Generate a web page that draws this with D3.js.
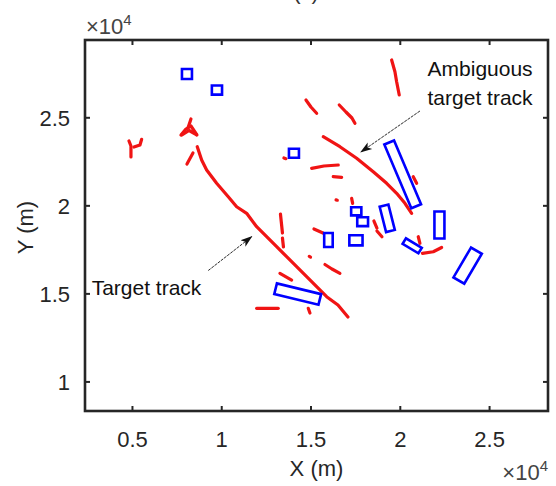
<!DOCTYPE html>
<html>
<head>
<meta charset="utf-8">
<script src="https://cdn.jsdelivr.net/npm/d3@7"></script>
<style>
  body { margin: 0; background: #fff; }
  svg { display: block; }
  text { font-family: "Liberation Sans", Arial, Helvetica, sans-serif; }
</style>
</head>
<body>
<svg id="chart" width="556" height="486"></svg>
<script>
// ---- axis ticks (metres) ----
const xTicks = [5000, 10000, 15000, 20000, 25000];
const xTickLabels = ["0.5", "1", "1.5", "2", "2.5"];
const yTicks = [10000, 15000, 20000, 25000];
const yTickLabels = ["1", "1.5", "2", "2.5"];

// ---- red track fragments, each a polyline of [x, y] in metres ----
const targetTrack = [
  [8657, 23330], [8903, 22575], [9183, 22007], [9743, 21251], [10393, 20490],
  [10863, 19922], [11423, 19547], [11983, 18786], [12543, 18218], [13103, 17650],
  [13663, 17082], [14223, 16514], [14783, 15946], [15343, 15378], [15903, 14810],
  [16536, 14339], [17096, 13657]
];
const ambiguousTrack = [
  [15713, 23898], [16648, 23330], [17583, 22671], [18513, 21910],
  [19263, 21251], [19823, 20683], [20288, 20115], [20663, 19547]
];
const clutterTracks = [
  [[4832, 23654], [4944, 23370], [4944, 23029], [4944, 22745]],
  [[5543, 23750], [5448, 23427], [5112, 23313]],
  [[7744, 23995], [8024, 24335], [8304, 24506], [8640, 23995]],
  [[7800, 24000], [8200, 24250], [8600, 24020]],
  [[8136, 24392], [8304, 24903]],
  [[8416, 22972], [8080, 22347]],
  [[19543, 28255], [19728, 27590], [19823, 27022], [19969, 26267]],
  [[14744, 25983], [15024, 25585], [15343, 25227]],
  [[16609, 25699], [16984, 25301], [17320, 24960], [17488, 24659]],
  [[15063, 22103], [15752, 22234], [16553, 22291]],
  [[16273, 21626], [16743, 21592]],
  [[13510, 22690], [13620, 22650]],
  [[20753, 21626], [20943, 21251]],
  [[17303, 20399], [17359, 20115]],
  [[16430, 20310], [16500, 20290]],
  [[13316, 19507], [13428, 18428]],
  [[13428, 18144], [13484, 17633]],
  [[15192, 18655], [15696, 18428]],
  [[18552, 19110], [18720, 18712]],
  [[18720, 18541], [19000, 18218]],
  [[21033, 18218], [21128, 17843]],
  [[21268, 17275], [21873, 17366], [22343, 17605]],
  [[14930, 17100], [15000, 17060]],
  [[15808, 16639], [16200, 16383], [16648, 16139]],
  [[11983, 14151], [13193, 14151]],
  [[14873, 14151], [14968, 13884]],
  [[13288, 16139], [13943, 15759]]
];

// ---- obstacles: centre x, centre y, length, width (metres), heading (deg) ----
const obstacleCx     = [8080, 9760, 14072, 16004, 17561, 17919, 17544, 20162, 19297, 22220, 20694, 23799, 14282];
const obstacleCy     = [27460, 26550, 22955, 18030, 19661, 19070, 18014, 21757, 19263, 18883, 17701, 16577, 14963];
const obstacleLength = [560, 570, 560, 476, 571, 605, 739, 3920, 1484, 1540, 1036, 1960, 2548];
const obstacleWidth  = [570, 520, 510, 795, 466, 500, 579, 590, 504, 560, 364, 700, 616];
const obstacleAngle  = [0, 0, 0, 0, 0, 0, 0, -67.3, -76, 90, -31.3, 59.9, -13.8];

// ---- layout ----
const plot = { left: 85, right: 548, top: 40, bottom: 411 };
const ink = "#262626";

const svg = d3.select("#chart");

const x = d3.scaleLinear().domain([2370, 28300]).range([plot.left, plot.right]);
const y = d3.scaleLinear().domain([8320, 29390]).range([plot.bottom, plot.top]);

const defs = svg.append("defs");
defs.append("clipPath").attr("id", "plotClip")
  .append("rect")
  .attr("x", plot.left).attr("y", plot.top)
  .attr("width", plot.right - plot.left).attr("height", plot.bottom - plot.top);

const marks = svg.append("g").attr("clip-path", "url(#plotClip)");

const line = d3.line().x(d => x(d[0])).y(d => y(d[1]));

// red tracks
const red = "#f01414";
marks.selectAll("path.track")
  .data([targetTrack, ambiguousTrack, ...clutterTracks])
  .join("path")
  .attr("class", "track")
  .attr("d", line)
  .attr("fill", "none")
  .attr("stroke", red)
  .attr("stroke-width", 3.2)
  .attr("stroke-linecap", "round")
  .attr("stroke-linejoin", "round");

// blue obstacle outlines
const obstacles = obstacleCx.map((cx, i) => {
  const a = obstacleAngle[i] * Math.PI / 180;
  const hl = obstacleLength[i] / 2, hw = obstacleWidth[i] / 2;
  const ux = Math.cos(a), uy = Math.sin(a);
  const vx = -Math.sin(a), vy = Math.cos(a);
  const cy = obstacleCy[i];
  return [
    [cx + ux * hl + vx * hw, cy + uy * hl + vy * hw],
    [cx - ux * hl + vx * hw, cy - uy * hl + vy * hw],
    [cx - ux * hl - vx * hw, cy - uy * hl - vy * hw],
    [cx + ux * hl - vx * hw, cy + uy * hl - vy * hw]
  ];
});
marks.selectAll("path.obstacle")
  .data(obstacles)
  .join("path")
  .attr("class", "obstacle")
  .attr("d", d => line(d) + "Z")
  .attr("fill", "none")
  .attr("stroke", "#0000ff")
  .attr("stroke-width", 2.6)
  .attr("stroke-linejoin", "miter");

// ---- axes box with inward ticks on all four sides ----
const tickLen = 5;
const axisBottom = d3.axisBottom(x).tickValues(xTicks).tickSize(-tickLen).tickFormat((d, i) => xTickLabels[i]);
const axisTop = d3.axisTop(x).tickValues(xTicks).tickSize(-tickLen).tickFormat("");
const axisLeft = d3.axisLeft(y).tickValues(yTicks).tickSize(-tickLen).tickFormat((d, i) => yTickLabels[i]).tickPadding(tickLen + 10);
const axisRight = d3.axisRight(y).tickValues(yTicks).tickSize(-tickLen).tickFormat("");

function styleAxis(g) {
  g.select(".domain").remove();
  g.selectAll(".tick line").attr("stroke", ink).attr("stroke-width", 2);
  g.selectAll(".tick text").attr("fill", ink).attr("font-size", 22);
}
svg.append("g").attr("transform", `translate(0,${plot.bottom})`).call(axisBottom).call(styleAxis)
  .selectAll(".tick text").attr("dy", null).attr("y", 35.5);
svg.append("g").attr("transform", `translate(0,${plot.top})`).call(axisTop).call(styleAxis);
svg.append("g").attr("transform", `translate(${plot.left},0)`).call(axisLeft).call(styleAxis)
  .selectAll(".tick text").attr("dy", "0.36em");
svg.append("g").attr("transform", `translate(${plot.right},0)`).call(axisRight).call(styleAxis);

svg.append("rect")
  .attr("x", plot.left).attr("y", plot.top)
  .attr("width", plot.right - plot.left).attr("height", plot.bottom - plot.top)
  .attr("fill", "none").attr("stroke", ink).attr("stroke-width", 2.6);

// axis labels
svg.append("text")
  .attr("x", (plot.left + plot.right) / 2).attr("y", 476)
  .attr("text-anchor", "middle").attr("font-size", 22).attr("fill", ink)
  .text("X (m)");
svg.append("text")
  .attr("transform", `translate(33,${(plot.top + plot.bottom) / 2 + 2}) rotate(-90)`)
  .attr("text-anchor", "middle").attr("font-size", 22).attr("fill", ink)
  .text("Y (m)");

// exponent multipliers
function exponent(xPos, yPos, anchor) {
  const t = svg.append("text")
    .attr("x", xPos).attr("y", yPos)
    .attr("text-anchor", anchor).attr("font-size", 22).attr("fill", "#444");
  t.append("tspan").text("\u00d710");
  t.append("tspan").attr("font-size", 15).attr("dy", -9).text("4");
}
exponent(plot.left + 1, 34, "start");
exponent(plot.right, 480, "end");

// panel title, sitting just above the top edge
svg.append("text")
  .attr("x", 306).attr("y", -1.5)
  .attr("text-anchor", "middle").attr("font-size", 22).attr("fill", "#333")
  .text("(c)");

// ---- annotations ----
defs.append("marker")
  .attr("id", "head")
  .attr("viewBox", "0 -5 12 10")
  .attr("refX", 11).attr("refY", 0)
  .attr("markerUnits", "userSpaceOnUse")
  .attr("markerWidth", 12).attr("markerHeight", 10)
  .attr("orient", "auto")
  .append("path")
  .attr("d", "M0,-4L12,0L0,4L3,0Z")
  .attr("fill", "#111");

function arrow(from, to) {
  svg.append("line")
    .attr("x1", x(from[0])).attr("y1", y(from[1]))
    .attr("x2", x(to[0])).attr("y2", y(to[1]))
    .attr("stroke", "#111").attr("stroke-width", 0.9)
    .attr("stroke-dasharray", "3,1")
    .attr("marker-end", "url(#head)");
}
arrow([9273, 16298], [11703, 18218]);
arrow([21128, 25358], [17824, 23029]);

function note(lines, xPos, yPos, lineGap) {
  lines.forEach((s, i) => {
    svg.append("text")
      .attr("x", x(xPos)).attr("y", y(yPos) + i * lineGap)
      .attr("font-size", 21).attr("fill", "#111")
      .text(s);
  });
}
note(["Target track"], 2743, 14907, 0);
note(["Ambiguous", "target track"], 21554, 27346, 29);
</script>
</body>
</html>
